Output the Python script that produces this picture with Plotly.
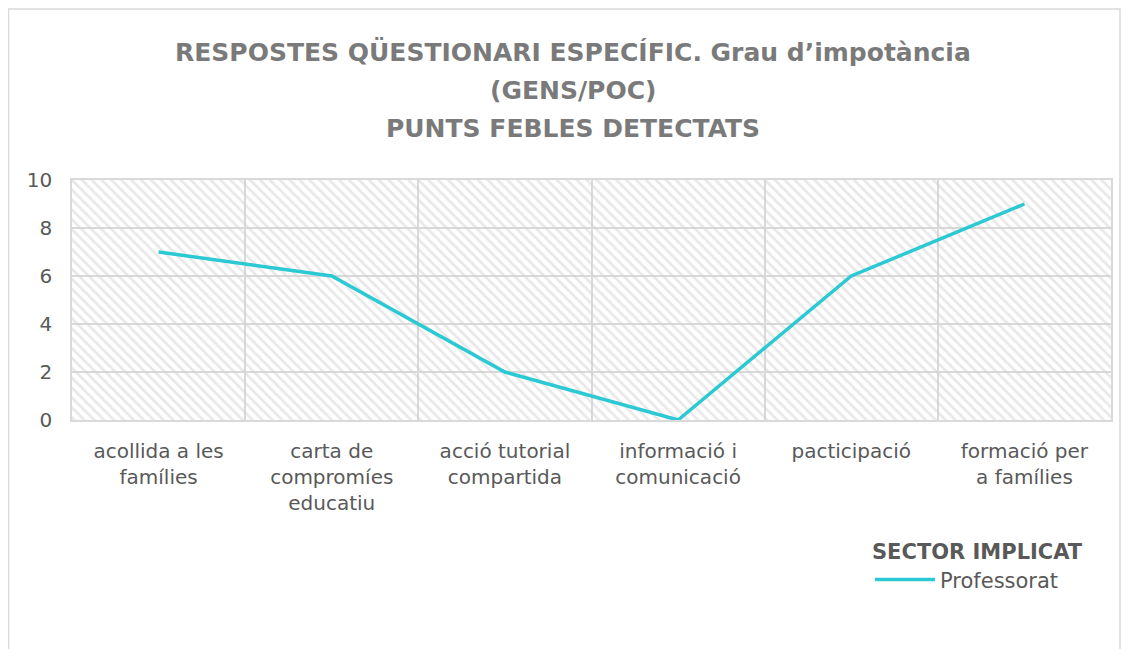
import plotly.graph_objects as go

categories = ["acollida a les<br>famílies", "carta de<br>compromíes<br>educatiu", "acció tutorial<br>compartida",
              "informació i<br>comunicació", "pacticipació", "formació per<br>a famílies"]
professorat = [7, 6, 2, 0, 6, 9]
series_name = "Professorat"
title_lines = ["RESPOSTES QÜESTIONARI ESPECÍFIC. Grau d’impotància", "(GENS/POC)", "PUNTS FEBLES DETECTATS"]
legend_title = "SECTOR IMPLICAT"

FONT = "'DejaVu Sans', sans-serif"
GRAY = "#595959"
TGRAY = "#7a7a7a"
LINE = "#2BC9D3"

OFF = 8  # page body margin
W, H = 1129 - OFF, 649 - OFF
L, R, T, B = 72 - OFF, 1111 - OFF, 180 - OFF, 420 - OFF
pw, ph = R - L, B - T


def px(x):
    return (x - OFF - L) / pw


def py(y):
    return (B - (y - OFF)) / ph


fig = go.Figure()
# hatched plot-area background
fig.add_trace(go.Bar(x=[categories[0]], y=[10], width=[len(categories)], offset=-0.5, showlegend=False,
                     hoverinfo="skip",
                     marker=dict(color="rgba(0,0,0,0)", line=dict(width=0),
                                 pattern=dict(shape="\\", fgcolor="#d2d2d2", bgcolor="rgba(0,0,0,0)",
                                              size=7, solidity=0.38))))
fig.add_trace(go.Scatter(x=categories, y=professorat, mode="lines", name=series_name,
                         line=dict(color=LINE, width=3.5)))

title_y = [52, 90, 128]
annotations = [dict(text=f"<b>{t}</b>", xref="paper", yref="paper", x=px(573), y=py(yy),
                    xanchor="center", yanchor="middle", showarrow=False,
                    font=dict(family=FONT, size=25, color=TGRAY))
               for t, yy in zip(title_lines, title_y)]

fig.update_layout(
    width=W, height=H,
    margin=dict(l=L, r=W - R, t=T, b=H - B, autoexpand=False),
    paper_bgcolor="white", plot_bgcolor="white",
    font=dict(family=FONT, color=GRAY),
    xaxis=dict(type="category", tickson="boundaries", range=[-0.5, len(categories) - 0.5],
               showgrid=True, gridcolor="#d9d9d9", gridwidth=1.5, automargin=False,
               ticks="", tickfont=dict(size=20, color=GRAY), ticklabelstandoff=12,
               showline=True, linecolor="#d9d9d9", linewidth=1.5, mirror=True, zeroline=False),
    yaxis=dict(range=[0, 10], dtick=2, showgrid=True, gridcolor="#d9d9d9", gridwidth=1.5, zeroline=False,
               automargin=False, showline=True, linecolor="#d9d9d9", linewidth=1.5, mirror=True,
               tickfont=dict(size=20, color=GRAY), ticks="", ticklabelstandoff=14),
    legend=dict(x=px(870), xanchor="left", y=py(532), yanchor="top",
                title=dict(text=f"<b>{legend_title}</b>", side="top", font=dict(size=21, color=GRAY)),
                font=dict(size=21, color=GRAY), bgcolor="rgba(0,0,0,0)", itemwidth=60),
    annotations=annotations,
    shapes=[dict(type="rect", xref="paper", yref="paper", x0=px(8.5), x1=px(1120),
                 y0=py(660), y1=py(9),
                 line=dict(color="#d9d9d9", width=1.5), fillcolor="rgba(0,0,0,0)", layer="below")],
)
fig.write_html("out.html")
